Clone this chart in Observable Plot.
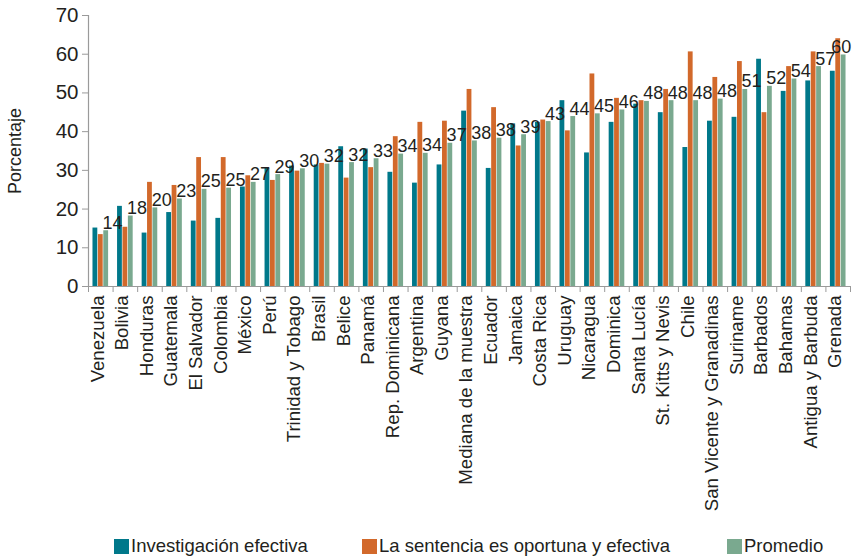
<!DOCTYPE html>
<html>
<head>
<meta charset="utf-8">
<script src="https://cdn.jsdelivr.net/npm/d3@7"></script>
<script src="https://cdn.jsdelivr.net/npm/@observablehq/plot@0.6"></script>
<style>
  html, body { margin: 0; padding: 0; background: #fff; }
  #wrap { position: relative; width: 853px; height: 559px; font-family: "Liberation Sans", Arial, sans-serif; color: #231f20; }
  .leg { position: absolute; top: 535px; display: flex; align-items: center; font-size: 18.5px; white-space: nowrap; }
  .sw { width: 15px; height: 15px; margin-right: 2px; }
</style>
</head>
<body>
<div id="wrap"></div>
<script>
const categories = ["Venezuela","Bolivia","Honduras","Guatemala","El Salvador","Colombia","México","Perú","Trinidad y Tobago","Brasil","Belice","Panamá","Rep. Dominicana","Argentina","Guyana","Mediana de la muestra","Ecuador","Jamaica","Costa Rica","Uruguay","Nicaragua","Dominica","Santa Lucía","St. Kitts y Nevis","Chile","San Vicente y Granadinas","Suriname","Barbados","Bahamas","Antigua y Barbuda","Grenada"];
const investigacion = [15.1,20.7,13.8,19.1,16.9,17.6,25.7,30.5,31.1,31.4,36.1,35.5,29.5,26.7,31.4,45.3,30.5,42.0,42.4,48.0,34.5,42.4,47.1,44.9,35.9,42.7,43.7,58.7,50.4,53.1,55.6];
const sentencia = [13.4,15.3,26.9,26.1,33.3,33.3,28.6,27.4,29.8,31.8,28.0,30.7,38.7,42.4,42.7,50.9,46.2,36.3,43.0,40.2,54.9,48.6,48.0,50.9,60.6,54.0,58.1,44.9,56.8,60.6,64.0];
const promedio = [14.4,18.2,20.3,22.6,25.1,25.4,26.9,28.9,30.4,31.6,32.0,33.0,34.2,34.4,37.0,37.6,38.3,39.2,42.6,43.9,44.6,45.6,47.8,48.0,48.0,48.4,50.9,51.7,53.6,56.8,59.8];
const seriesNames = ["Investigación efectiva","La sentencia es oportuna y efectiva","Promedio"];
const colors = ["#00788a","#d2692b","#7aa98f"];
const yTicks = [0,10,20,30,40,50,60,70];

const rows = categories.map((c, i) => ({i, c, inv: investigacion[i], sen: sentencia[i], pro: promedio[i]}));
const slot = [0.17, 0.39, 0.61, 0.83];
const keys = ["inv","sen","pro"];
const lastIdx = categories.length - 1;

const font = '"Liberation Sans", Arial, sans-serif';
const ink = "#231f20";
const axisGray = "#9a9a9a";
const labelText = d => String(Math.round(d.pro));

const chart = Plot.plot({
  width: 853,
  height: 522,
  marginLeft: 88,
  marginRight: 3,
  marginTop: 15,
  marginBottom: 236,
  style: {fontFamily: font, color: ink, background: "#fff", overflow: "visible"},
  x: {type: "linear", domain: [0, categories.length], axis: null},
  y: {domain: [0, 70], axis: null},
  marks: [
    ...keys.map((k, s) => Plot.rectY(rows, {
      x1: d => d.i + slot[s], x2: d => d.i + slot[s + 1], y1: 0, y2: d => d[k],
      fill: colors[s], insetLeft: 0.3, insetRight: 0.3
    })),
    Plot.text(rows.filter(d => d.i !== lastIdx), {
      x: d => d.i + slot[2], y: "pro", text: labelText,
      textAnchor: "start", lineAnchor: "bottom", dy: -2, dx: -1,
      fontSize: 18, fill: ink, fontFamily: font
    }),
    Plot.text(rows.filter(d => d.i === lastIdx), {
      x: d => d.i + slot[3], y: "pro", text: labelText,
      textAnchor: "end", lineAnchor: "bottom", dy: -2, dx: 5,
      fontSize: 18, fill: ink, fontFamily: font
    }),
    Plot.ruleY([0], {stroke: axisGray, strokeWidth: 1.2}),
    Plot.ruleX([0], {y1: 0, y2: 70, stroke: axisGray, strokeWidth: 1.2}),
    Plot.axisY(yTicks, {tickSize: 6, tickPadding: 4, fontSize: 20.5, stroke: axisGray, color: ink, label: null, tickFormat: d => String(d)}),
    Plot.axisX(d3.range(categories.length + 1), {tickSize: 6, stroke: axisGray, tickFormat: () => "", label: null}),
    Plot.axisX(d3.range(categories.length).map(i => i + 0.5), {
      tickSize: 0, tickPadding: 9, tickRotate: -90, fontSize: 18.6, fill: ink,
      tickFormat: v => categories[Math.floor(v)], label: null, dx: -3
    }),
    Plot.text(["Porcentaje"], {frameAnchor: "left", textAnchor: "middle", dx: -73, rotate: -90, fontSize: 18, fill: ink, fontFamily: font})
  ]
});

const wrap = document.getElementById("wrap");
wrap.appendChild(chart);

const legendPos = [114, 362, 727];
seriesNames.forEach((name, s) => {
  const item = document.createElement("div");
  item.className = "leg";
  item.style.left = legendPos[s] + "px";
  const sw = document.createElement("span");
  sw.className = "sw";
  sw.style.background = colors[s];
  const t = document.createElement("span");
  t.textContent = name;
  item.appendChild(sw);
  item.appendChild(t);
  wrap.appendChild(item);
});
</script>
</body>
</html>
